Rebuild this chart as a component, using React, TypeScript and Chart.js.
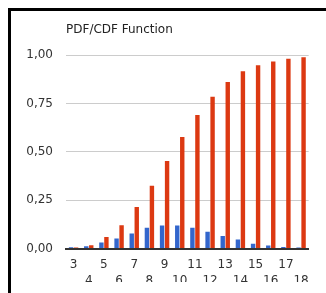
import React, { useEffect, useRef } from "react";
import { Chart, registerables } from "chart.js";

Chart.register(...registerables);

const categories = ["3", "4", "5", "6", "7", "8", "9", "10", "11", "12", "13", "14", "15", "16", "17", "18"];
const pdfValues = [0.007, 0.012, 0.031, 0.052, 0.078, 0.107, 0.119, 0.119, 0.107, 0.086, 0.065, 0.047, 0.024, 0.016, 0.008, 0.005];
const cdfValues = [0.005, 0.017, 0.059, 0.12, 0.215, 0.324, 0.452, 0.576, 0.69, 0.784, 0.86, 0.916, 0.947, 0.967, 0.981, 0.988];
const yTicks = [0, 0.25, 0.5, 0.75, 1];
const titleText = "PDF/CDF Function";

export default function App() {
  const ref = useRef<HTMLCanvasElement | null>(null);

  useEffect(() => {
    const canvas = ref.current;
    if (!canvas) return;
    const font = "'DejaVu Sans', Verdana, sans-serif";
    const chart = new Chart(canvas, {
      type: "bar",
      data: {
        labels: categories,
        datasets: [
          {
            label: "PDF",
            data: pdfValues,
            backgroundColor: "#3366CC",
            borderWidth: 0,
            categoryPercentage: 0.66,
            barPercentage: 0.88,
          },
          {
            label: "CDF",
            data: cdfValues,
            backgroundColor: "#DC3912",
            borderWidth: 0,
            categoryPercentage: 0.66,
            barPercentage: 0.88,
          },
        ],
      },
      options: {
        responsive: false,
        animation: false,
        devicePixelRatio: 1,
        layout: { padding: { left: 0, right: 7, top: 0, bottom: 0 } },
        plugins: {
          legend: { display: false },
          tooltip: { enabled: false },
          title: {
            display: true,
            text: titleText,
            align: "start",
            fullSize: false,
            color: "#222",
            font: { family: font, size: 12, weight: "normal" },
            padding: { top: 11.5, bottom: 18.1 },
          },
        },
        scales: {
          x: {
            grid: { display: false, drawTicks: false },
            border: { display: true, color: "#333", width: 2 },
            ticks: {
              autoSkip: false,
              maxRotation: 0,
              minRotation: 0,
              padding: 9,
              color: "#333",
              font: { family: font, size: 12, lineHeight: 1.3 },
              callback: function (this: any, value: any, index: number) {
                const lab = categories[index];
                return index % 2 === 0 ? lab : ["", lab];
              },
            },
            afterFit: (scale: any) => {
              scale.height = 36.5;
            },
          },
          y: {
            min: 0,
            max: 1,
            grid: { color: "#cccccc", lineWidth: 1, drawTicks: false },
            border: { display: false },
            afterBuildTicks: (scale: any) => {
              scale.ticks = yTicks.map((v) => ({ value: v }));
            },
            ticks: {
              padding: 13,
              color: "#333",
              font: { family: font, size: 12 },
              callback: (v: any) => Number(v).toFixed(2).replace(".", ","),
            },
            afterFit: (scale: any) => {
              scale.width = 55;
            },
          },
        },
      },
    });
    return () => chart.destroy();
  }, []);

  return (
    <div style={{ position: "relative", width: 307, height: 274 }}>
      <div
        style={{
          position: "fixed",
          left: 8,
          top: 8,
          right: 0,
          bottom: 0,
          borderLeft: "3px solid #000",
          borderTop: "3px solid #000",
          pointerEvents: "none",
        }}
      />
      <canvas
        ref={ref}
        width={307}
        height={274}
        style={{ display: "block", position: "absolute", left: 3, top: 3 }}
      />
    </div>
  );
}
